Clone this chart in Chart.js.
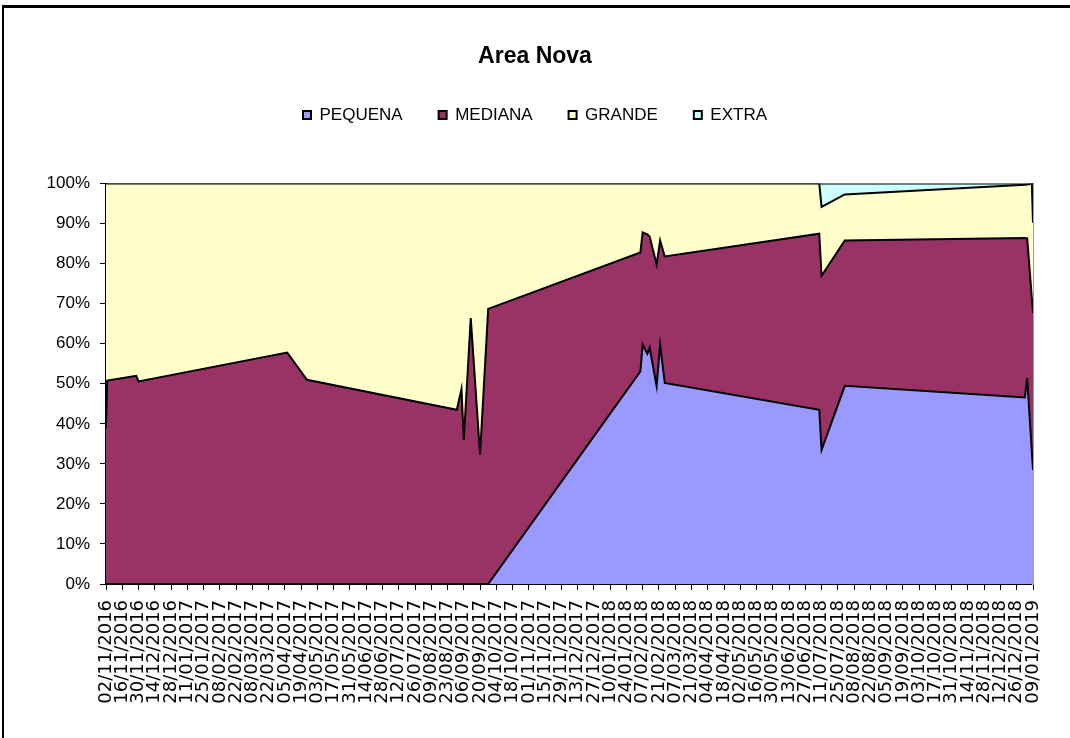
<!DOCTYPE html>
<html>
<head>
<meta charset="utf-8">
<title>Area Nova</title>
<script src="https://cdn.jsdelivr.net/npm/chart.js@4.4.1/dist/chart.umd.min.js"></script>
<style>
	body { margin: 0; background: #fff; overflow: hidden; }
	#frame {
		position: absolute; left: 2px; top: 5px; width: 1200px; height: 900px;
		border-left: 2px solid #000; border-top: 3px solid #000;
	}
	#wrap { position: absolute; left: 0; top: 0; width: 1070px; height: 738px; }
</style>
</head>
<body>
<div id="frame"></div>
<div id="wrap"><canvas id="areaChart" width="1070" height="738"></canvas></div>
<script>
// sample dates (dd/mm/yyyy) and share of each size, in %
const dates = [
	"02/11/2016", "03/11/2016", "28/11/2016", "30/11/2016", "07/04/2017", "24/04/2017",
	"31/08/2017", "04/09/2017", "06/09/2017", "12/09/2017", "20/09/2017", "27/09/2017",
	"05/02/2018", "07/02/2018", "11/02/2018", "13/02/2018", "19/02/2018", "22/02/2018",
	"26/02/2018", "09/07/2018", "11/07/2018", "31/07/2018", "02/01/2019", "04/01/2019",
	"08/01/2019", "09/01/2019",
];
const pequena = [
	0, 0, 0, 0, 0, 0,
	0, 0, 0, 0, 0, 0,
	53.1, 59.8, 57.5, 59.0, 49.4, 59.8,
	50.2, 43.5, 33.5, 49.5, 46.6, 51.4,
	33.0, 28.5,
];
const mediana = [
	39.0, 50.8, 52.0, 50.6, 57.8, 51.0,
	43.5, 48.7, 36.0, 66.4, 32.3, 68.7,
	29.7, 28.0, 29.8, 27.8, 30.4, 26.0,
	31.6, 44.0, 43.5, 36.3, 39.8, 34.9,
	38.4, 39.2,
];
const grande = [
	61.0, 49.2, 48.0, 49.4, 42.2, 49.0,
	56.5, 51.3, 64.0, 33.6, 67.7, 31.3,
	17.2, 12.2, 12.7, 13.2, 20.2, 14.2,
	18.2, 12.5, 17.2, 11.5, 13.3, 13.5,
	28.6, 22.5,
];
const extra = [
	0, 0, 0, 0, 0, 0,
	0, 0, 0, 0, 0, 0,
	0, 0, 0, 0, 0, 0,
	0, 0, 5.8, 2.7, 0.3, 0.2,
	0, 9.8,
];
const seriesNames = ["PEQUENA", "MEDIANA", "GRANDE", "EXTRA"];
const seriesColors = ["#9999FF", "#993366", "#FFFFCC", "#CCFFFF"];
// x axis: one label every 14 days from the first to the last date
const axisStart = "02/11/2016";
const axisEnd = "09/01/2019";
const axisStepDays = 14;

const DAY = 86400000;
function toUTC(s) {
	const [d, m, y] = s.split("/").map(Number);
	return Date.UTC(y, m - 1, d);
}
const t0 = toUTC(axisStart);
function dayOf(s) {
	return Math.round((toUTC(s) - t0) / DAY);
}
function labelOf(n) {
	const dt = new Date(t0 + n * DAY);
	const dd = String(dt.getUTCDate()).padStart(2, "0");
	const mm = String(dt.getUTCMonth() + 1).padStart(2, "0");
	return dd + "/" + mm + "/" + dt.getUTCFullYear();
}

const xs = dates.map(dayOf);
const allSeries = [pequena, mediana, grande, extra];

const datasets = allSeries.map(function (values, i) {
	return {
		label: seriesNames[i],
		data: values.map(function (v, j) {
			return { x: xs[j], y: v };
		}),
		backgroundColor: seriesColors[i],
		borderColor: "#000",
		borderWidth: 2,
		pointRadius: 0,
		tension: 0,
		fill: i === 0 ? "origin" : "-1",
	};
});

// leaves room between the legend and the plot
const legendSpacer = {
	id: "legendSpacer",
	beforeInit(chart) {
		const fit = chart.legend.fit;
		chart.legend.fit = function () {
			fit.bind(chart.legend)();
			this.height += 50;
		};
	},
};

const font = "Liberation Sans";

const areaChart = new Chart(document.getElementById("areaChart"), {
	type: "line",
	data: { datasets: datasets },
	plugins: [legendSpacer],
	options: {
		responsive: false,
		animation: false,
		layout: { padding: 0 },
		plugins: {
			title: {
				display: true,
				text: "Area Nova",
				color: "#000",
				font: { family: font, size: 23, weight: "bold" },
				padding: { top: 43, bottom: 0 },
			},
			legend: {
				labels: {
					color: "#000",
					font: { family: font, size: 17 },
					boxWidth: 8,
					boxHeight: 8,
					padding: 36,
				},
			},
			tooltip: { enabled: false },
		},
		scales: {
			x: {
				type: "linear",
				min: dayOf(axisStart),
				max: dayOf(axisEnd),
				ticks: {
					stepSize: axisStepDays,
					autoSkip: false,
					minRotation: 90,
					maxRotation: 90,
					padding: 10,
					color: "#000",
					font: { family: "DejaVu Sans", size: 18 },
					callback: function (value) {
						return labelOf(value);
					},
				},
				grid: { drawOnChartArea: false, tickLength: 6, color: "#000" },
				border: { color: "#000", width: 2 },
				afterFit: function (scale) {
					scale.height = 154;
				},
			},
			y: {
				stacked: true,
				min: 0,
				max: 100,
				ticks: {
					stepSize: 10,
					padding: 10,
					color: "#000",
					font: { family: font, size: 17 },
					callback: function (value) {
						return value + "%";
					},
				},
				grid: { drawOnChartArea: false, tickLength: 6, color: "#000" },
				border: { color: "#000", width: 2 },
				afterFit: function (scale) {
					scale.width = 106;
				},
			},
			yRight: {
				type: "linear",
				position: "right",
				ticks: { display: false },
				grid: { display: false },
				border: { color: "#a0a0a0", width: 2 },
				afterFit: function (scale) {
					scale.width = 37;
				},
			},
		},
	},
});
</script>
</body>
</html>
